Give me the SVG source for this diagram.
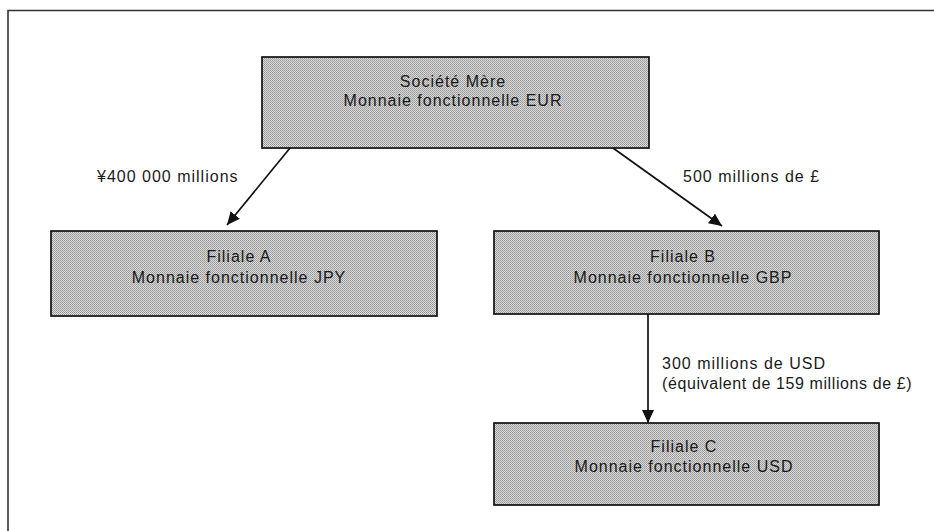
<svg xmlns="http://www.w3.org/2000/svg" width="934" height="531" viewBox="0 0 934 531">
  <defs>
    <pattern id="stipple" width="2" height="2" patternUnits="userSpaceOnUse">
      <rect width="2" height="2" fill="#dcdcdc"/>
      <rect width="1" height="1" fill="#959595"/>
      <rect x="1" y="1" width="1" height="1" fill="#a2a2a2"/>
    </pattern>
    <marker id="arrow" markerUnits="userSpaceOnUse" markerWidth="14" markerHeight="14" viewBox="0 0 14 14" refX="13" refY="7" orient="auto">
      <path d="M0,1 L13,7 L0,13 Z" fill="#111"/>
    </marker>
  </defs>
  <style>
    .box { fill: url(#stipple); stroke: #111; stroke-width: 1.7; }
    .t { font-family: "Liberation Sans", Arial, Helvetica, sans-serif; font-size: 16px; letter-spacing: 1px; fill: #1a1a1a; }
    .c { text-anchor: middle; }
    .conn { stroke: #111; stroke-width: 1.7; fill: none; marker-end: url(#arrow); }
    .frame { stroke: #333; stroke-width: 1.6; fill: none; }
  </style>
  <rect width="934" height="531" fill="#ffffff"/>
  <path class="frame" d="M8,531 V10.5 H934"/>

  <g id="connectors">
    <line class="conn" x1="290" y1="148" x2="227" y2="225"/>
    <line class="conn" x1="613" y1="148" x2="722" y2="226"/>
    <line class="conn" x1="648" y1="314" x2="648" y2="423"/>
    <text class="t" x="97" y="182">¥400 000 millions</text>
    <text class="t" x="683" y="182">500 millions de £</text>
    <text class="t" x="662" y="369">300 millions de USD</text>
    <text class="t" x="662" y="389" style="letter-spacing:0.6px">(équivalent de 159 millions de £)</text>
  </g>

  <g id="societe-mere">
    <rect class="box" x="262" y="57" width="387" height="91"/>
    <text class="t c" x="453" y="87">Société Mère</text>
    <text class="t c" x="453" y="106">Monnaie fonctionnelle EUR</text>
  </g>

  <g id="filiale-a">
    <rect class="box" x="51" y="231" width="386" height="85"/>
    <text class="t c" x="239" y="262">Filiale A</text>
    <text class="t c" x="239" y="283">Monnaie fonctionnelle JPY</text>
  </g>

  <g id="filiale-b">
    <rect class="box" x="494" y="231" width="385" height="83"/>
    <text class="t c" x="683" y="262">Filiale B</text>
    <text class="t c" x="683" y="283">Monnaie fonctionnelle GBP</text>
  </g>

  <g id="filiale-c">
    <rect class="box" x="494" y="423" width="385" height="82"/>
    <text class="t c" x="684" y="452">Filiale C</text>
    <text class="t c" x="684" y="472">Monnaie fonctionnelle USD</text>
  </g>
</svg>
